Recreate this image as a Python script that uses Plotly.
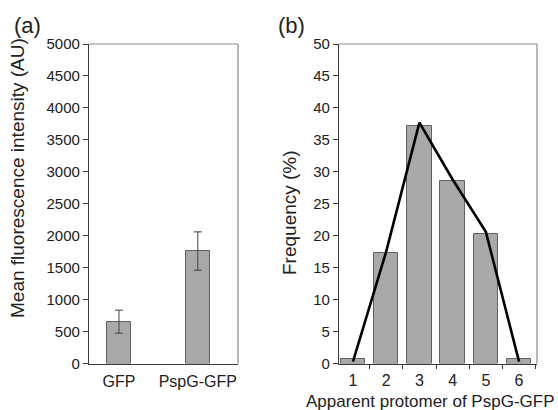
import plotly.graph_objects as go

# Panel (a)
cat_a = ["GFP", "PspG-GFP"]
mean_a = [655, 1760]
err_a = [180, 300]
ytick_a = [0, 500, 1000, 1500, 2000, 2500, 3000, 3500, 4000, 4500, 5000]

# Panel (b)
prot_b = [1, 2, 3, 4, 5, 6]
freq_b = [0.7, 17.3, 37.1, 28.6, 20.2, 0.7]
line_b = [0.3, 17.5, 37.7, 28.8, 20.6, 0.3]
ytick_b = [0, 5, 10, 15, 20, 25, 30, 35, 40, 45, 50]

W, H = 558, 410
FONT = "Liberation Sans, Arial, sans-serif"
AX = "#3a3a3a"
FRAME = "#8a8a8a"
BARFILL = "#a9a9a9"
BARLINE = "#606060"
TXT = "#222"

def px(x):
    return x / W

def py(y):
    return 1 - y / H

fig = go.Figure()

fig.add_trace(go.Bar(
    x=[0, 1], y=mean_a, width=0.3,
    marker=dict(color=BARFILL, line=dict(color=BARLINE, width=1)),
    error_y=dict(type="data", array=err_a, color="#404040", thickness=1, width=4),
    xaxis="x", yaxis="y", showlegend=False,
))

fig.add_trace(go.Bar(
    x=prot_b, y=freq_b, width=0.73,
    marker=dict(color=BARFILL, line=dict(color=BARLINE, width=1)),
    xaxis="x2", yaxis="y2", showlegend=False,
))
fig.add_trace(go.Scatter(
    x=prot_b, y=line_b, mode="lines",
    line=dict(color="black", width=2.6),
    xaxis="x2", yaxis="y2", showlegend=False,
))

ydom = [py(363.5), py(44)]
tickfont = dict(family=FONT, size=15, color=TXT)
xtickfont = dict(family=FONT, size=16, color=TXT)

fig.update_layout(
    width=W, height=H,
    margin=dict(l=0, r=0, t=0, b=0, autoexpand=False),
    paper_bgcolor="white", plot_bgcolor="white",
    font=dict(family=FONT, color=TXT),
    bargap=0,
    xaxis=dict(
        domain=[px(89), px(238)], range=[-0.38, 1.51], automargin=False,
        tickmode="array", tickvals=[0, 1], ticktext=cat_a,
        ticks="outside", ticklen=0, ticklabelstandoff=3,
        showgrid=False, zeroline=False,
        showline=True, linecolor=AX, linewidth=1.2,
        tickfont=xtickfont, anchor="y",
    ),
    yaxis=dict(
        domain=ydom, range=[0, 5000], automargin=False,
        tickmode="array", tickvals=ytick_a,
        ticks="outside", ticklen=5, tickcolor=AX, tickwidth=1,
        showgrid=False, zeroline=False,
        showline=True, linecolor=AX, linewidth=1.2,
        tickfont=tickfont, anchor="x",
    ),
    xaxis2=dict(
        domain=[px(339), px(537)], range=[0.58, 6.54], automargin=False,
        tickmode="array", tickvals=prot_b, ticktext=[str(v) for v in prot_b],
        ticks="outside", ticklen=0, ticklabelstandoff=2,
        showgrid=False, zeroline=False,
        minor=dict(ticks="outside", tickmode="linear", tick0=0.5, dtick=1,
                   ticklen=4, tickcolor=AX, tickwidth=1.2, showgrid=False),
        showline=True, linecolor=AX, linewidth=1.2,
        tickfont=xtickfont, anchor="y2",
    ),
    yaxis2=dict(
        domain=ydom, range=[0, 50], automargin=False,
        tickmode="array", tickvals=ytick_b,
        ticks="outside", ticklen=5, tickcolor=AX, tickwidth=1,
        showgrid=False, zeroline=False,
        showline=True, linecolor=AX, linewidth=1.2,
        tickfont=tickfont, anchor="x2",
    ),
)

# top/right frame lines in gray
for xr, yr in (("x domain", "y domain"), ("x2 domain", "y2 domain")):
    fig.add_shape(type="line", xref=xr, yref=yr, x0=0, x1=1, y0=1, y1=1,
                  line=dict(color=FRAME, width=1.2))
    fig.add_shape(type="line", xref=xr, yref=yr, x0=1, x1=1, y0=0, y1=1,
                  line=dict(color=FRAME, width=1.2))

ann = [
    dict(text="(a)", x=px(12), y=py(25), xanchor="left", size=22, angle=0),
    dict(text="(b)", x=px(276), y=py(25), xanchor="left", size=22, angle=0),
    dict(text="Mean fluorescence intensity (AU)", x=px(18), y=py(178),
         xanchor="center", size=19, angle=-90),
    dict(text="Frequency (%)", x=px(289), y=py(212),
         xanchor="center", size=19, angle=-90),
    dict(text="Apparent protomer of PspG-GFP", x=px(557), y=py(401),
         xanchor="right", size=17, angle=0),
]
for a in ann:
    fig.add_annotation(
        text=a["text"], x=a["x"], y=a["y"], xref="paper", yref="paper",
        xanchor=a["xanchor"], yanchor="middle", showarrow=False,
        textangle=a["angle"],
        font=dict(family=FONT, size=a["size"], color=TXT),
    )

fig.write_html("out.html", config={"displayModeBar": False},
               post_script="document.body.style.margin='0';")
